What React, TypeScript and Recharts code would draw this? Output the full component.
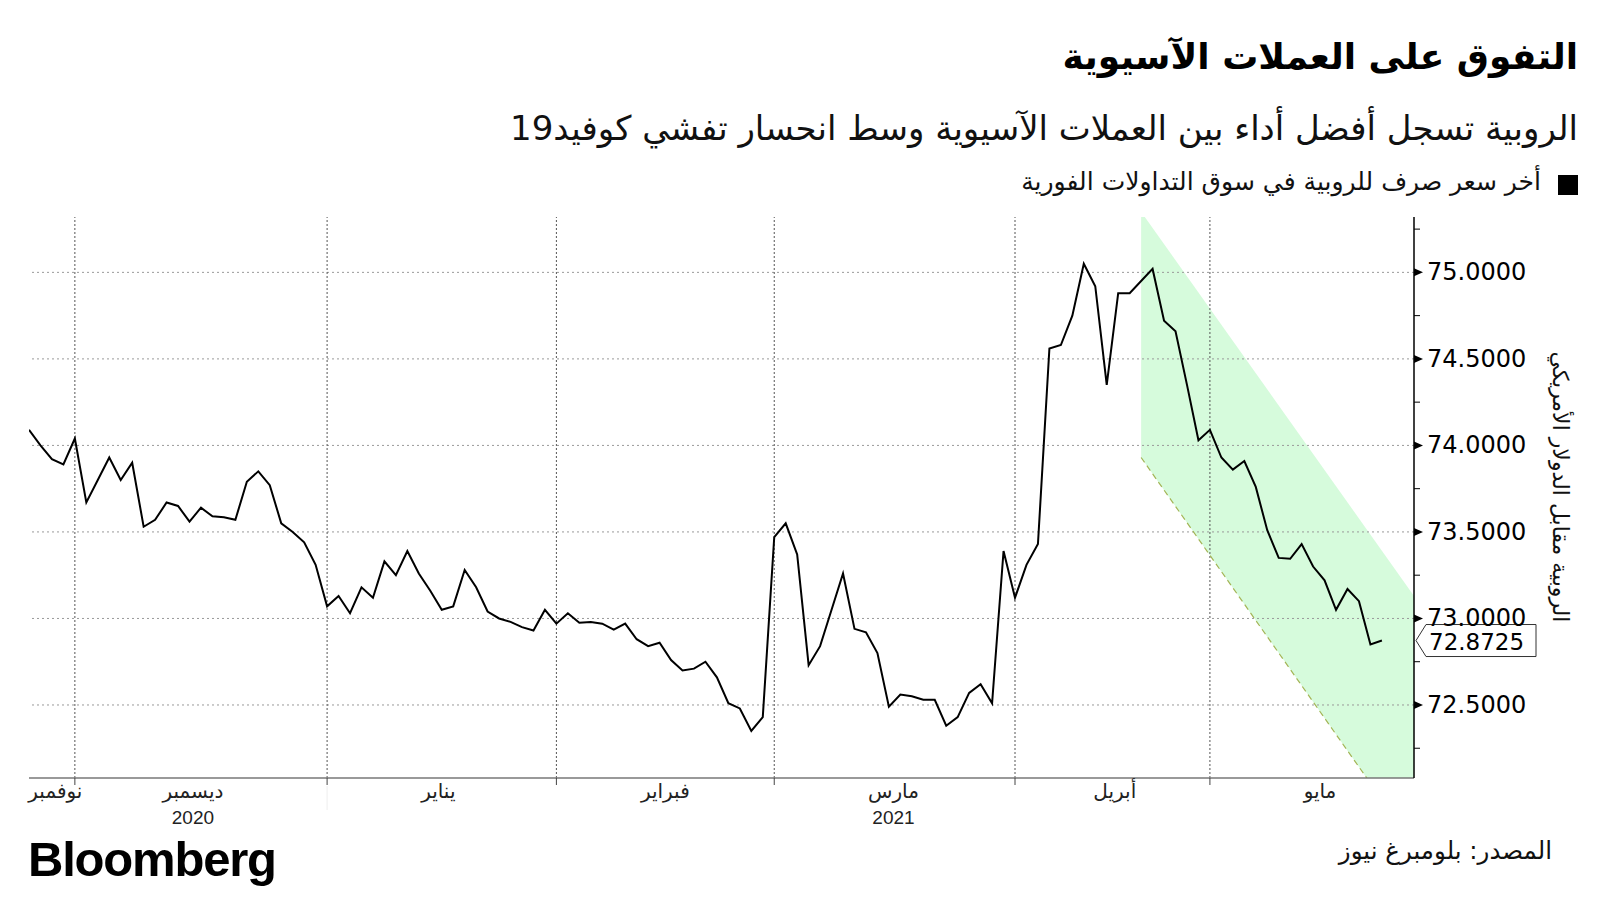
import React from 'react';
import {
  ComposedChart, Line, Area, XAxis, YAxis, ReferenceLine, ReferenceDot,
} from 'recharts';

// daily INR spot closes, Nov 2020 - May 2021 (one entry per trading day)
const RUPEE = [
  74.09, 74.0, 73.92, 73.89, 74.04, 73.67, 73.8, 73.93, 73.8, 73.9,
  73.53, 73.57, 73.67, 73.65, 73.56, 73.64, 73.59, 73.585, 73.57, 73.79,
  73.85, 73.77, 73.55, 73.5, 73.44, 73.31, 73.07, 73.13, 73.03, 73.18,
  73.12, 73.33, 73.25, 73.39, 73.26, 73.16, 73.05, 73.07, 73.28, 73.18,
  73.04, 73.0, 72.98, 72.95, 72.93, 73.05, 72.97, 73.03, 72.975, 72.98,
  72.97, 72.935, 72.97, 72.88, 72.84, 72.86, 72.76, 72.7, 72.71, 72.75,
  72.66, 72.51, 72.48, 72.35, 72.43, 73.47, 73.55, 73.37, 72.73, 72.84,
  73.05, 73.26, 72.94, 72.92, 72.8, 72.49, 72.56, 72.55, 72.53, 72.53,
  72.38, 72.43, 72.57, 72.62, 72.51, 73.39, 73.12, 73.31, 73.43, 74.56,
  74.58, 74.75, 75.05, 74.92, 74.35, 74.88, 74.88, 74.95, 75.02, 74.72,
  74.66, 74.35, 74.03, 74.09, 73.93, 73.86, 73.91, 73.76, 73.51, 73.35,
  73.345, 73.43, 73.3, 73.22, 73.05, 73.17, 73.1, 72.85, 72.8725,
];

// downward channel drawn over the April-May slide
const BAND_X = [97, 120.8];
const BAND_HIGH = [75.35, 73.13];
const BAND_LOW = [73.93, 71.69];

const X_MAX = 120.8;
const Y_DOMAIN = [72.078, 75.32];

const MONTH_BOUNDS = [4, 26, 46, 65, 86, 103];
const MONTH_MID = [2.3, 14.3, 35.7, 55.5, 75.4, 94.7, 112.6];
const MONTH_NAMES = ['نوفمبر', 'ديسمبر', 'يناير', 'فبراير', 'مارس', 'أبريل', 'مايو'];
const YEAR_AT = [14.3, 75.4];
const YEAR_LABELS = ['2020', '2021'];

const Y_MAJOR = [72.5, 73, 73.5, 74, 74.5, 75];
const Y_MINOR = [72.25, 72.75, 73.25, 73.75, 74.25, 74.75, 75.25];

const ARABIC = '"DejaVu Sans", sans-serif';

const lineData = RUPEE.map((v, i) => ({ i, rupee: v }));
const bandData = BAND_X.map((x, k) => ({
  i: x,
  band: [BAND_LOW[k], BAND_HIGH[k]],
  low: BAND_LOW[k],
}));
const lastValue = RUPEE[RUPEE.length - 1];

function XTick(props: any) {
  const { x, y, payload } = props;
  const v = payload.value;
  if (MONTH_BOUNDS.includes(v)) {
    return (
      <g>
        <line x1={x} x2={x} y1={y} y2={y + 7} stroke="#444" strokeWidth={1} />
        {v === 26 && <line x1={x} x2={x} y1={y + 8} y2={y + 32} stroke="#eee" strokeWidth={1} />}
      </g>
    );
  }
  const k = MONTH_MID.indexOf(v);
  const yi = YEAR_AT.indexOf(v);
  return (
    <g>
      <text x={x} y={y + 13} textAnchor="middle" dominantBaseline="central"
        fontFamily={ARABIC} fontSize={20} fill="#222">{MONTH_NAMES[k]}</text>
      {yi >= 0 && (
        <text x={x} y={y + 39} textAnchor="middle" dominantBaseline="central"
          fontFamily='"Liberation Sans", Arial, sans-serif' fontSize={19} fill="#222">{YEAR_LABELS[yi]}</text>
      )}
    </g>
  );
}

function YTick(props: any) {
  const { x, y, payload } = props;
  const v = payload.value;
  if (Y_MAJOR.includes(v)) {
    return (
      <g>
        <polygon points={`${x},${y - 4} ${x + 9},${y} ${x},${y + 4}`} fill="#000" />
        <text x={x + 13} y={y} dominantBaseline="central" fontFamily={ARABIC}
          fontSize={24} fill="#000">{v.toFixed(4)}</text>
      </g>
    );
  }
  return <line x1={x} x2={x + 6} y1={y} y2={y} stroke="#000" strokeWidth={1} />;
}

function LastLabel(props: any) {
  const { cx, cy } = props;
  const x = cx + 2;
  return (
    <g>
      <polygon
        points={`${x},${cy} ${x + 10},${cy - 16} ${x + 120},${cy - 16} ${x + 120},${cy + 16} ${x + 10},${cy + 16}`}
        fill="#fff" stroke="#333" strokeWidth={1}
      />
      <text x={x + 13} y={cy + 1} dominantBaseline="central" fontFamily={ARABIC}
        fontSize={23} fill="#000">{lastValue.toFixed(4)}</text>
    </g>
  );
}

export default function App() {
  return (
    <div style={{ position: 'absolute', left: 0, top: 0, width: 1600, height: 900, background: '#fff', overflow: 'hidden' }}>
      <div dir="rtl" style={{ position: 'absolute', right: 22, top: 36, fontFamily: ARABIC, fontWeight: 700, fontSize: 36, color: '#000', whiteSpace: 'nowrap' }}>
        التفوق على العملات الآسيوية
      </div>
      <div dir="rtl" style={{ position: 'absolute', right: 22, top: 108, fontFamily: ARABIC, fontSize: 34, color: '#111', whiteSpace: 'nowrap' }}>
        الروبية تسجل أفضل أداء بين العملات الآسيوية وسط انحسار تفشي كوفيد19
      </div>
      <div style={{ position: 'absolute', left: 1558, top: 175, width: 20, height: 20, background: '#000' }} />
      <div dir="rtl" style={{ position: 'absolute', right: 59, top: 167, fontFamily: ARABIC, fontSize: 25, color: '#111', whiteSpace: 'nowrap' }}>
        أخر سعر صرف للروبية في سوق التداولات الفورية
      </div>

      <ComposedChart
        width={1600}
        height={900}
        margin={{ top: 217, right: 66, bottom: 82, left: 29 }}
        style={{ position: 'absolute', left: 0, top: 0 }}
      >
        <XAxis
          type="number"
          dataKey="i"
          domain={[0, X_MAX]}
          allowDataOverflow
          ticks={[...MONTH_BOUNDS, ...MONTH_MID]}
          interval={0}
          tick={<XTick />}
          tickLine={false}
          tickSize={0}
          tickMargin={0}
          height={40}
          axisLine={{ stroke: '#777', strokeWidth: 1.5 }}
        />
        <YAxis
          orientation="right"
          type="number"
          domain={Y_DOMAIN}
          allowDataOverflow
          ticks={[...Y_MINOR, ...Y_MAJOR].sort((a, b) => a - b)}
          interval={0}
          tick={<YTick />}
          tickLine={false}
          tickSize={0}
          tickMargin={0}
          width={120}
          axisLine={{ stroke: '#000', strokeWidth: 1.5 }}
        />
        {Y_MAJOR.map((v) => (
          <ReferenceLine key={'h' + v} y={v} stroke="#999" strokeDasharray="2 3" strokeWidth={1} />
        ))}
        {MONTH_BOUNDS.map((v) => (
          <ReferenceLine key={'v' + v} x={v} stroke="#555" strokeDasharray="2 2" strokeWidth={1} />
        ))}
        <Area
          data={bandData}
          dataKey="band"
          type="linear"
          stroke="none"
          fill="#d6fbdc"
          fillOpacity={1}
          isAnimationActive={false}
        />
        <Line
          data={bandData}
          dataKey="low"
          type="linear"
          stroke="#a3b455"
          strokeWidth={1.2}
          strokeDasharray="6 4"
          dot={false}
          isAnimationActive={false}
        />
        <Line
          data={lineData}
          dataKey="rupee"
          type="linear"
          stroke="#000"
          strokeWidth={2}
          dot={false}
          isAnimationActive={false}
        />
        <ReferenceDot x={X_MAX} y={lastValue} r={0} shape={<LastLabel />} />
      </ComposedChart>

      <div dir="rtl" style={{ position: 'absolute', left: 1560, top: 487, transform: 'translate(-50%, -50%) rotate(90deg)', fontFamily: ARABIC, fontSize: 22, color: '#111', whiteSpace: 'nowrap' }}>
        الروبية مقابل الدولار الأمريكي
      </div>

      <div style={{ position: 'absolute', left: 28, top: 831, fontFamily: '"Liberation Sans", Arial, sans-serif', fontWeight: 700, fontSize: 49, letterSpacing: -1.2, color: '#000' }}>
        Bloomberg
      </div>
      <div dir="rtl" style={{ position: 'absolute', right: 48, top: 836, fontFamily: ARABIC, fontSize: 24.5, color: '#111', whiteSpace: 'nowrap' }}>
        المصدر: بلومبرغ نيوز
      </div>
    </div>
  );
}
